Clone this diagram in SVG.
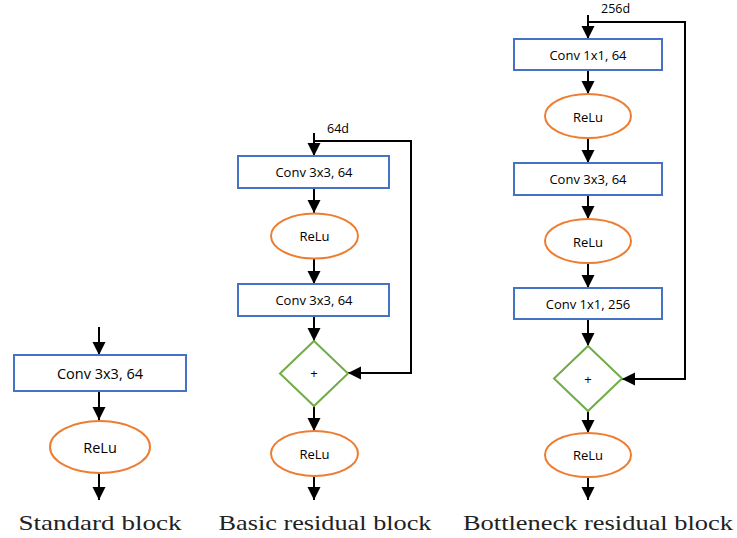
<svg xmlns="http://www.w3.org/2000/svg" width="737" height="538" viewBox="0 0 737 538">
  <defs>
    <marker id="arrow" markerUnits="userSpaceOnUse" markerWidth="14" markerHeight="14" viewBox="0 0 14 14" refX="13" refY="7" orient="auto">
      <path d="M0,0.5 L13,7 L0,13.5 Z" fill="#000"/>
    </marker>
  </defs>
  <style>
    .conv { fill: #fff; stroke: #4472C4; stroke-width: 2; }
    .relu { fill: #fff; stroke: #ED7D31; stroke-width: 2; }
    .add { fill: #fff; stroke: #70AD47; stroke-width: 2; }
    .lbl { font-family: "Open Sans", "DejaVu Sans", sans-serif; font-size: 13px; fill: #000; text-anchor: middle; dominant-baseline: central; }
    .big { font-size: 14.5px; }
    .dim { font-family: "Open Sans", "DejaVu Sans", sans-serif; font-size: 12.5px; fill: #000; }
    .title { font-family: "Liberation Serif", "DejaVu Serif", serif; font-size: 22px; fill: #222; text-anchor: middle; }
    .edge { fill: none; stroke: #000; stroke-width: 2; marker-end: url(#arrow); }
  </style>

  <!-- connectors -->
  <g id="connectors">
    <!-- standard block -->
    <line class="edge" x1="99" y1="327" x2="99" y2="355"/>
    <line class="edge" x1="99" y1="391" x2="99" y2="420"/>
    <line class="edge" x1="99" y1="473" x2="99" y2="500"/>
    <!-- basic residual block -->
    <line class="edge" x1="314" y1="133" x2="314" y2="156"/>
    <line class="edge" x1="314" y1="188" x2="314" y2="213"/>
    <line class="edge" x1="314" y1="258" x2="314" y2="284"/>
    <line class="edge" x1="314" y1="316" x2="314" y2="341"/>
    <line class="edge" x1="314" y1="406" x2="314" y2="431"/>
    <line class="edge" x1="314" y1="476" x2="314" y2="500"/>
    <polyline class="edge" points="314,141 411,141 411,373 348,373"/>
    <!-- bottleneck residual block -->
    <line class="edge" x1="588" y1="15" x2="588" y2="39"/>
    <line class="edge" x1="588" y1="70" x2="588" y2="94"/>
    <line class="edge" x1="588" y1="138" x2="588" y2="163"/>
    <line class="edge" x1="588" y1="195" x2="588" y2="219"/>
    <line class="edge" x1="588" y1="263" x2="588" y2="288"/>
    <line class="edge" x1="588" y1="319" x2="588" y2="346"/>
    <line class="edge" x1="588" y1="411" x2="588" y2="433"/>
    <line class="edge" x1="588" y1="477" x2="588" y2="500"/>
    <polyline class="edge" points="588,22 685,22 685,379 622,379"/>
  </g>

  <!-- standard block -->
  <g id="std-conv">
    <rect class="conv" x="14" y="355" width="172" height="36"/>
    <text class="lbl big" x="100" y="373">Conv 3x3, 64</text>
  </g>
  <g id="std-relu">
    <ellipse class="relu" cx="100" cy="447" rx="50" ry="26"/>
    <text class="lbl big" x="100" y="447">ReLu</text>
  </g>
  <text class="title" x="100" y="530" textLength="163" lengthAdjust="spacingAndGlyphs">Standard block</text>

  <!-- basic residual block -->
  <text class="dim" x="327" y="133">64d</text>
  <g id="basic-conv1">
    <rect class="conv" x="238" y="156" width="151" height="32"/>
    <text class="lbl" x="314" y="172">Conv 3x3, 64</text>
  </g>
  <g id="basic-relu1">
    <ellipse class="relu" cx="314.5" cy="236" rx="43.5" ry="22.5"/>
    <text class="lbl" x="314.5" y="236">ReLu</text>
  </g>
  <g id="basic-conv2">
    <rect class="conv" x="238" y="284" width="151" height="32"/>
    <text class="lbl" x="314" y="300">Conv 3x3, 64</text>
  </g>
  <g id="basic-add">
    <polygon class="add" points="314,341 348,373.5 314,406 280,373.5"/>
    <text class="lbl" x="314" y="373">+</text>
  </g>
  <g id="basic-relu2">
    <ellipse class="relu" cx="314.5" cy="453.5" rx="43.5" ry="22.5"/>
    <text class="lbl" x="314.5" y="454">ReLu</text>
  </g>
  <text class="title" x="325" y="530" textLength="213" lengthAdjust="spacingAndGlyphs">Basic residual block</text>

  <!-- bottleneck residual block -->
  <text class="dim" x="601" y="13">256d</text>
  <g id="bn-conv1">
    <rect class="conv" x="514" y="39" width="148" height="31"/>
    <text class="lbl" x="588" y="55">Conv 1x1, 64</text>
  </g>
  <g id="bn-relu1">
    <ellipse class="relu" cx="588" cy="116" rx="43" ry="22"/>
    <text class="lbl" x="588" y="117">ReLu</text>
  </g>
  <g id="bn-conv2">
    <rect class="conv" x="514" y="163" width="148" height="32"/>
    <text class="lbl" x="588" y="179">Conv 3x3, 64</text>
  </g>
  <g id="bn-relu2">
    <ellipse class="relu" cx="588" cy="241" rx="43" ry="22"/>
    <text class="lbl" x="588" y="242">ReLu</text>
  </g>
  <g id="bn-conv3">
    <rect class="conv" x="514" y="288" width="148" height="31"/>
    <text class="lbl" x="588" y="304">Conv 1x1, 256</text>
  </g>
  <g id="bn-add">
    <polygon class="add" points="588,346 622,378.5 588,411 554,378.5"/>
    <text class="lbl" x="588" y="379">+</text>
  </g>
  <g id="bn-relu3">
    <ellipse class="relu" cx="588" cy="455" rx="43" ry="22"/>
    <text class="lbl" x="588" y="455">ReLu</text>
  </g>
  <text class="title" x="598" y="530" textLength="270" lengthAdjust="spacingAndGlyphs">Bottleneck residual block</text>
</svg>
